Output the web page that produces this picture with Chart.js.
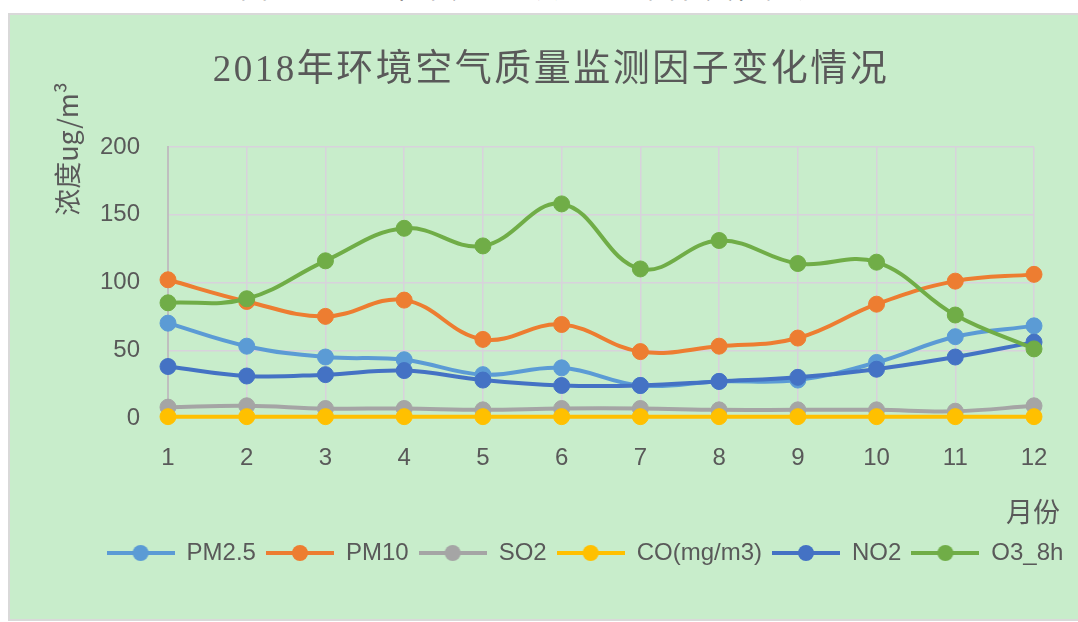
<!DOCTYPE html>
<html>
<head>
<meta charset="utf-8">
<script src="https://cdn.jsdelivr.net/npm/chart.js@4"></script>
<style>
  html, body { margin: 0; padding: 0; background: #fff; width: 1078px; height: 622px; overflow: hidden; }
  #cut { position: absolute; left: 0; top: 0; width: 1078px; height: 12px; overflow: hidden; }
  #cut span { position: absolute; left: 240px; top: -28px; font: 28px/28px "Noto Sans CJK SC", sans-serif; color: #222; letter-spacing: 1px; white-space: nowrap; }
  #panel { position: absolute; left: 8px; top: 13px; width: 1068px; height: 604px;
           background: #c8edcb; border: 2px solid #d9d9d9; border-right: none; }
  canvas { display: block; }
</style>
</head>
<body>
<div id="cut"><span>图2-1 2018年环境空气质量监测因子变化情况</span></div>
<div id="panel"><canvas id="airChart" width="1068" height="604"></canvas></div>
<script>
// months
const months = ["1", "2", "3", "4", "5", "6", "7", "8", "9", "10", "11", "12"];
const yTicks = [0, 50, 100, 150, 200];

// series
const pm25 = [70, 53, 45, 43, 32, 37, 24, 27, 28, 41, 60, 68];
const pm10 = [102, 86, 75, 87, 58, 69, 49, 53, 59, 84, 101, 106];
const so2 = [8, 9, 7, 7, 6, 7, 7, 6, 6, 6, 5, 9];
const co = [1, 1, 1, 1, 1, 1, 1, 1, 1, 1, 1, 1];
const no2 = [38, 31, 32, 35, 28, 24, 24, 27, 30, 36, 45, 56];
const o3 = [85, 88, 116, 140, 127, 158, 110, 131, 114, 115, 76, 51];

const names = ["PM2.5", "PM10", "SO2", "CO(mg/m3)", "NO2", "O3_8h"];
const colors = ["#5b9bd5", "#ed7d31", "#a5a5a5", "#ffc000", "#4472c4", "#70ad47"];
const values = [pm25, pm10, so2, co, no2, o3];

const textColor = "#595959";
const gridColor = "#d8d2dc";

// line + dot mark for the legend
function legendMark(color) {
  const c = document.createElement("canvas");
  c.width = 68;
  c.height = 20;
  const g = c.getContext("2d");
  g.strokeStyle = color;
  g.lineWidth = 4;
  g.beginPath();
  g.moveTo(0, 10);
  g.lineTo(68, 10);
  g.stroke();
  g.fillStyle = color;
  g.beginPath();
  g.arc(34, 10, 8, 0, Math.PI * 2);
  g.fill();
  return c;
}
const marks = colors.map(legendMark);

// title and axis titles
const textPlugin = {
  id: "texts",
  afterDraw(chart) {
    const ctx = chart.ctx;
    ctx.save();
    ctx.fillStyle = textColor;
    ctx.textBaseline = "middle";

    ctx.font = '37px "Liberation Serif", "Noto Sans CJK SC", serif';
    ctx.letterSpacing = "2.5px";
    ctx.textAlign = "center";
    ctx.fillText("2018年环境空气质量监测因子变化情况", 541, 56);
    ctx.letterSpacing = "0px";

    ctx.font = '27px "Noto Sans CJK SC", sans-serif';
    ctx.textAlign = "right";
    ctx.fillText("月份", 1050, 497);

    ctx.translate(58, 134);
    ctx.rotate(-Math.PI / 2);
    ctx.textAlign = "center";
    ctx.font = '27px "Noto Sans CJK SC", sans-serif';
    ctx.fillText("浓度ug/m³", 0, 0);
    ctx.restore();
  },
};

const airChart = document.getElementById("airChart");

new Chart(airChart, {
  type: "line",
  data: {
    labels: months,
    datasets: names.map((name, i) => ({
      label: name,
      data: values[i],
      borderColor: colors[i],
      backgroundColor: colors[i],
      pointBackgroundColor: colors[i],
      pointBorderColor: colors[i],
      pointRadius: 8,
      pointBorderWidth: 1,
      borderWidth: 4,
      tension: 0.4,
      clip: false,
      order: names.length - i,
    })),
  },
  options: {
    responsive: false,
    animation: false,
    layout: { padding: { left: 82, right: 0, top: 132, bottom: 44 } },
    plugins: {
      title: { display: false },
      tooltip: { enabled: false },
      legend: {
        position: "bottom",
        labels: {
          usePointStyle: true,
          pointStyleWidth: 68,
          padding: 10,
          color: textColor,
          font: { family: '"Liberation Sans", sans-serif', size: 24 },
          sort: (a, b) => a.datasetIndex - b.datasetIndex,
          generateLabels(chart) {
            const items = Chart.defaults.plugins.legend.labels.generateLabels(chart);
            items.forEach((it) => { it.pointStyle = marks[it.datasetIndex]; });
            return items;
          },
        },
      },
    },
    scales: {
      x: {
        grid: { color: gridColor, lineWidth: 1.5, drawTicks: false },
        border: { display: false },
        ticks: {
          color: textColor,
          padding: 26,
          maxRotation: 0,
          font: { family: '"Liberation Sans", sans-serif', size: 24 },
        },
        afterFit: (s) => { s.height = 113; },
      },
      y: {
        min: 0,
        max: 200,
        afterBuildTicks: (s) => { s.ticks = yTicks.map((v) => ({ value: v })); },
        grid: { color: gridColor, lineWidth: 1.5, drawTicks: false },
        border: { display: true, color: "#bfbfbf", width: 2 },
        ticks: {
          color: textColor,
          padding: 28,
          font: { family: '"Liberation Sans", sans-serif', size: 24 },
        },
        afterFit: (s) => { s.width = 76; },
      },
      yr: {
        position: "right",
        grid: { display: false },
        border: { display: false },
        ticks: { display: false },
        afterFit: (s) => { s.width = 44; },
      },
    },
  },
  plugins: [textPlugin],
});
</script>
</body>
</html>
